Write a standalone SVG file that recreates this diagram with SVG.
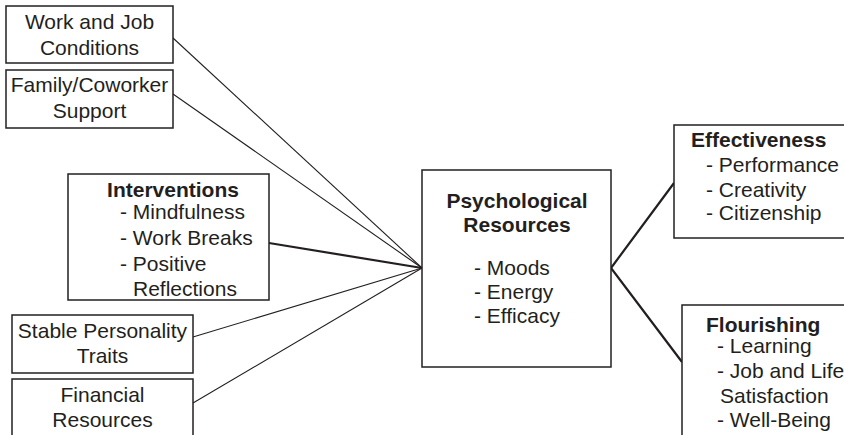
<svg xmlns="http://www.w3.org/2000/svg" width="844" height="435" viewBox="0 0 844 435">
  <style>
    .box { fill: #ffffff; stroke: #231f20; stroke-width: 1.5; }
    .t { font-family: "Liberation Sans", Arial, sans-serif; font-size: 21px; fill: #231f20; }
    .c { text-anchor: middle; }
    .b { font-weight: bold; }
    .thin { stroke: #231f20; stroke-width: 1.1; fill: none; }
    .thick { stroke: #231f20; stroke-width: 2.2; fill: none; }
  </style>
  <rect width="844" height="435" fill="#ffffff"/>

  <!-- connectors -->
  <g id="connectors">
    <line class="thin" x1="173" y1="38" x2="422" y2="268"/>
    <line class="thin" x1="173" y1="94" x2="422" y2="268"/>
    <line class="thick" x1="269" y1="243" x2="422" y2="268"/>
    <line class="thin" x1="193" y1="337" x2="422" y2="268"/>
    <line class="thin" x1="193" y1="403" x2="422" y2="268"/>
    <polyline class="thick" points="674,183 611,268 682,362"/>
  </g>

  <g id="work-job">
    <rect class="box" x="6" y="6" width="167" height="57"/>
    <text class="t c" x="89.5" y="29">Work and Job</text>
    <text class="t c" x="89.5" y="55">Conditions</text>
  </g>

  <g id="family-support">
    <rect class="box" x="6" y="70" width="167" height="58"/>
    <text class="t c" x="89.5" y="92">Family/Coworker</text>
    <text class="t c" x="89.5" y="118">Support</text>
  </g>

  <g id="interventions">
    <rect class="box" x="68" y="174" width="201" height="126"/>
    <text class="t b c" x="173" y="197">Interventions</text>
    <text class="t" x="120" y="219">- Mindfulness</text>
    <text class="t" x="120" y="245">- Work Breaks</text>
    <text class="t" x="120" y="271">- Positive</text>
    <text class="t" x="133" y="296">Reflections</text>
  </g>

  <g id="stable-traits">
    <rect class="box" x="12" y="315" width="181" height="58"/>
    <text class="t c" x="102.5" y="338">Stable Personality</text>
    <text class="t c" x="102.5" y="363">Traits</text>
  </g>

  <g id="financial">
    <rect class="box" x="12" y="379" width="181" height="70"/>
    <text class="t c" x="102.5" y="402">Financial</text>
    <text class="t c" x="102.5" y="427">Resources</text>
  </g>

  <g id="psychological-resources">
    <rect class="box" x="422" y="170" width="189" height="197"/>
    <text class="t b c" x="517" y="208">Psychological</text>
    <text class="t b c" x="517" y="232">Resources</text>
    <text class="t" x="474" y="275">- Moods</text>
    <text class="t" x="474" y="299">- Energy</text>
    <text class="t" x="474" y="323">- Efficacy</text>
  </g>

  <g id="effectiveness">
    <rect class="box" x="674" y="125" width="190" height="113"/>
    <text class="t b" x="691" y="147">Effectiveness</text>
    <text class="t" x="706" y="172">- Performance</text>
    <text class="t" x="706" y="197">- Creativity</text>
    <text class="t" x="706" y="220">- Citizenship</text>
  </g>

  <g id="flourishing">
    <rect class="box" x="682" y="305" width="190" height="150"/>
    <text class="t b" x="706" y="332">Flourishing</text>
    <text class="t" x="717" y="353">- Learning</text>
    <text class="t" x="717" y="378">- Job and Life</text>
    <text class="t" x="720" y="403">Satisfaction</text>
    <text class="t" x="717" y="427">- Well-Being</text>
  </g>
</svg>
